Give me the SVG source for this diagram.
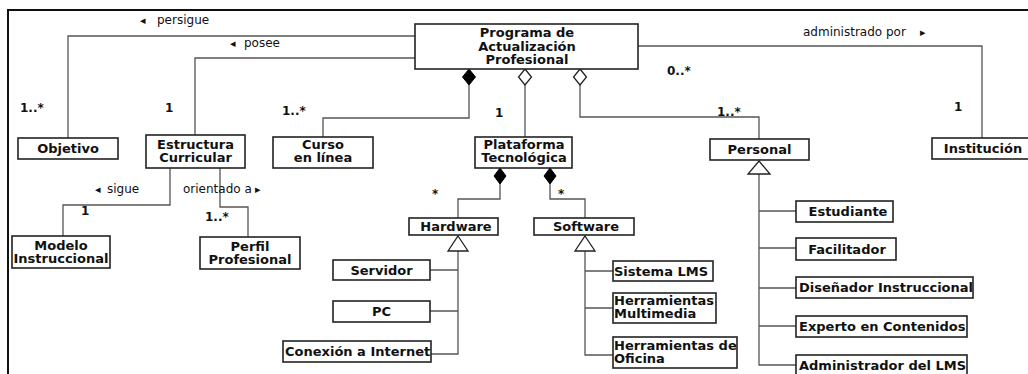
<svg xmlns="http://www.w3.org/2000/svg" width="1028" height="374" viewBox="0 0 1028 374">
<style>
.box{fill:#fff;stroke:#222;stroke-width:1.6}
.t{font-family:"DejaVu Sans",sans-serif;font-weight:bold;font-size:13px;fill:#111}
.c{text-anchor:middle}
.lbl{font-family:"DejaVu Sans",sans-serif;font-size:12px;fill:#111}
.ar{font-size:11px}
.m{font-family:"DejaVu Sans",sans-serif;font-weight:bold;font-size:12px;fill:#111}
.ln{fill:none;stroke:#555;stroke-width:1.3}
.fd{fill:#000;stroke:#000;stroke-width:1}
.od{fill:#fff;stroke:#222;stroke-width:1.3}
.tri{fill:#fff;stroke:#222;stroke-width:1.3}
</style>
<rect width="1028" height="374" fill="#fff"/>
<path d="M8,374 V10 H1028" fill="none" stroke="#111" stroke-width="2"/>
<g id="connectors">
<path class="ln" d="M415,36 H68 V138"/>
<path class="ln" d="M415,58 H195 V135"/>
<path class="ln" d="M469,85 V118 H323 V137"/>
<path class="ln" d="M525,85 V137"/>
<path class="ln" d="M580,85 V117 H759 V139"/>
<path class="ln" d="M638,46 H982 V138"/>
<path class="ln" d="M170,168 V205 H63 V236"/>
<path class="ln" d="M220,168 V207 H248 V237"/>
<path class="ln" d="M500,184 V199 H458 V218"/>
<path class="ln" d="M550,184 V199 H585 V218"/>
<path class="ln" d="M458,251 V354 H431 M458,270 H430 M458,311 H430"/>
<path class="ln" d="M585,251 V355 H613 M585,271 H613 M585,308 H613"/>
<path class="ln" d="M759,174 V365 H796 M759,211 H796 M759,248 H796 M759,288 H796 M759,326 H796"/>
<polygon class="fd" points="469,69 475.5,77 469,85 462.5,77"/>
<polygon class="od" points="525,69 531.5,77 525,85 518.5,77"/>
<polygon class="od" points="580,69 586.5,77 580,85 573.5,77"/>
<polygon class="fd" points="500,168 506,176 500,184 494,176"/>
<polygon class="fd" points="550,168 556,176 550,184 544,176"/>
<polygon class="tri" points="458,236 468,251 448,251"/>
<polygon class="tri" points="585,236 595,251 575,251"/>
<polygon class="tri" points="759,161 770,174 748,174"/>
<text class="lbl"><tspan class="ar" x="140" y="24">◂</tspan><tspan x="157" y="24">persigue</tspan></text>
<text class="lbl"><tspan class="ar" x="230" y="47">◂</tspan><tspan x="244" y="47">posee</tspan></text>
<text class="lbl"><tspan x="803" y="36">administrado por</tspan><tspan class="ar" x="920" y="36">▸</tspan></text>
<text class="lbl"><tspan class="ar" x="95" y="193">◂</tspan><tspan x="107" y="193">sigue</tspan></text>
<text class="lbl"><tspan x="183" y="193">orientado a</tspan><tspan class="ar" x="255" y="193">▸</tspan></text>
<text class="m" x="20" y="112">1..*</text>
<text class="m" x="165" y="112">1</text>
<text class="m" x="282" y="115">1..*</text>
<text class="m" x="495" y="117">1</text>
<text class="m" x="717" y="116">1..*</text>
<text class="m" x="667" y="75">0..*</text>
<text class="m" x="954" y="111">1</text>
<text class="m" x="432" y="198">*</text>
<text class="m" x="558" y="198">*</text>
<text class="m" x="81" y="215">1</text>
<text class="m" x="205" y="221">1..*</text>
</g>
<g id="programa">
<rect class="box" x="415" y="24" width="223" height="45"/>
<text class="t c" x="527" y="37">Programa de</text>
<text class="t c" x="527" y="50.5">Actualización</text>
<text class="t c" x="527" y="64">Profesional</text>
</g>
<g id="objetivo">
<rect class="box" x="18" y="138" width="100" height="21"/>
<text class="t c" x="68" y="153">Objetivo</text>
</g>
<g id="estructura">
<rect class="box" x="146" y="135" width="99" height="33"/>
<text class="t c" x="195.5" y="148.5">Estructura</text>
<text class="t c" x="195.5" y="161.5">Curricular</text>
</g>
<g id="curso">
<rect class="box" x="273" y="137" width="100" height="31"/>
<text class="t c" x="323" y="149">Curso</text>
<text class="t c" x="323" y="162">en línea</text>
</g>
<g id="plataforma">
<rect class="box" x="475" y="137" width="97" height="31"/>
<text class="t c" x="524" y="149">Plataforma</text>
<text class="t c" x="524" y="162">Tecnológica</text>
</g>
<g id="personal">
<rect class="box" x="710" y="139" width="99" height="21"/>
<text class="t c" x="759.5" y="154">Personal</text>
</g>
<g id="institucion">
<rect class="box" x="932" y="138" width="102" height="21"/>
<text class="t c" x="983" y="153">Institución</text>
</g>
<g id="modelo">
<rect class="box" x="12" y="236" width="98" height="32"/>
<text class="t c" x="61" y="250">Modelo</text>
<text class="t c" x="61" y="263">Instruccional</text>
</g>
<g id="perfil">
<rect class="box" x="200" y="237" width="100" height="32"/>
<text class="t c" x="250" y="251">Perfil</text>
<text class="t c" x="250" y="264">Profesional</text>
</g>
<g id="hardware">
<rect class="box" x="409" y="218" width="89" height="17"/>
<text class="t c" x="456" y="231">Hardware</text>
</g>
<g id="software">
<rect class="box" x="534" y="218" width="100" height="17"/>
<text class="t c" x="586" y="231">Software</text>
</g>
<g id="servidor">
<rect class="box" x="333" y="260" width="97" height="20"/>
<text class="t c" x="381.5" y="274.5">Servidor</text>
</g>
<g id="pc">
<rect class="box" x="333" y="301" width="97" height="21"/>
<text class="t c" x="381.5" y="316">PC</text>
</g>
<g id="conexion">
<rect class="box" x="283" y="341" width="148" height="21"/>
<text class="t" x="285" y="356">Conexión a Internet</text>
</g>
<g id="lms">
<rect class="box" x="613" y="261" width="100" height="20"/>
<text class="t" x="614" y="275.5">Sistema LMS</text>
</g>
<g id="multimedia">
<rect class="box" x="613" y="293" width="103" height="30"/>
<text class="t" x="614" y="305">Herramientas</text>
<text class="t" x="614" y="318">Multimedia</text>
</g>
<g id="oficina">
<rect class="box" x="613" y="337" width="124" height="31"/>
<text class="t" x="614" y="349.5">Herramientas de</text>
<text class="t" x="614" y="363">Oficina</text>
</g>
<g id="estudiante">
<rect class="box" x="796" y="201" width="97" height="21"/>
<text class="t c" x="848" y="216">Estudiante</text>
</g>
<g id="facilitador">
<rect class="box" x="796" y="238" width="100" height="22"/>
<text class="t c" x="847" y="253.5">Facilitador</text>
</g>
<g id="disenador">
<rect class="box" x="796" y="277" width="177" height="21"/>
<text class="t" x="799" y="292">Diseñador Instruccional</text>
</g>
<g id="experto">
<rect class="box" x="796" y="316" width="171" height="21"/>
<text class="t" x="799" y="331">Experto en Contenidos</text>
</g>
<g id="administrador">
<rect class="box" x="796" y="355" width="171" height="22"/>
<text class="t" x="799" y="370">Administrador del LMS</text>
</g>
</svg>
